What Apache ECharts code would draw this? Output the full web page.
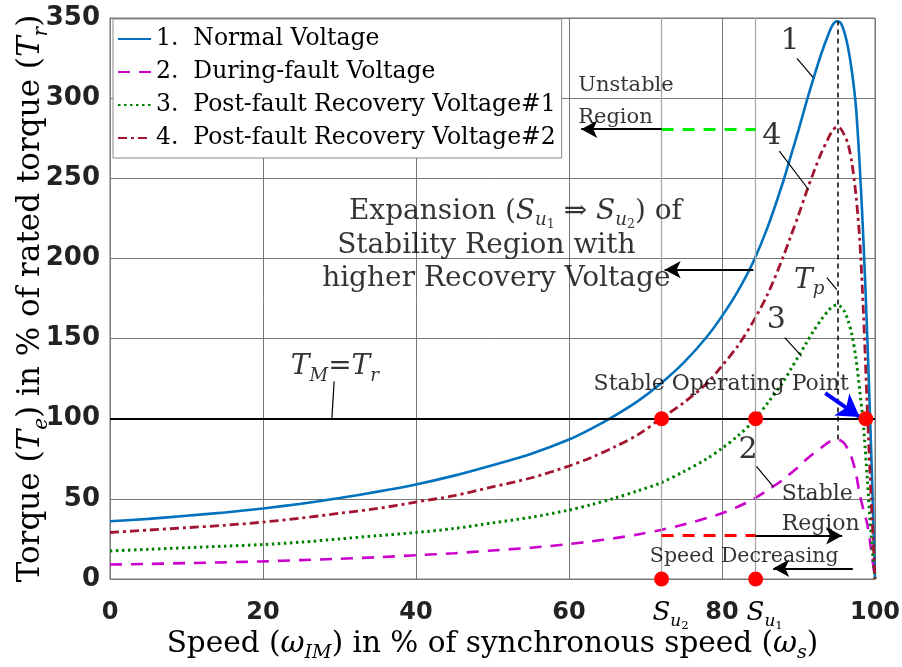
<!DOCTYPE html>
<html>
<head>
<meta charset="utf-8">
<script src="https://cdn.jsdelivr.net/npm/echarts@6/dist/echarts.min.js"></script>
<style>
  html, body { margin: 0; padding: 0; background: #fff; }
  #chart { width: 902px; height: 667px; }
</style>
</head>
<body>
<div id="chart"></div>
<script>
// speed in % of synchronous speed
const speed = [0, 5, 10, 15, 20, 25, 30, 35, 40, 45, 50, 55, 60,
  63, 66, 69, 72, 75, 78, 80, 82, 84, 86, 88,
  89, 90, 91, 92, 93, 94,
  94.5, 95, 95.5, 96, 96.5, 97, 97.5, 98, 98.5, 99, 99.5, 100];

// torque in % of rated torque
const normalV = [36, 37.5, 39.5, 41.5, 44, 47, 50.5, 54.5, 59, 64.5, 71, 78, 87,
  94, 102, 111, 122, 135, 151, 164, 179, 197, 220, 248,
  264, 280, 297, 313, 328, 341,
  346, 348, 347, 341, 331, 316, 295, 258, 210, 150, 80, 0];
const faultV = [9, 9.4, 9.9, 10.4, 11, 11.8, 12.6, 13.6, 14.8, 16.1, 17.8, 19.5, 21.8,
  23.5, 25.5, 27.8, 30.6, 34, 38, 41, 45, 49.5, 55.5, 62,
  66, 70, 74.5, 78.5, 82, 85.5,
  86.5, 87, 86.5, 84.5, 80.5, 75, 66, 53, 43, 34, 18, 0];
const recov1 = [17.5, 18.5, 19.5, 20.5, 21.5, 23, 25, 27, 29, 31.5, 35, 38.5, 43,
  46.5, 50.5, 55, 60, 67, 75, 81.5, 89, 98, 110, 123,
  131, 139, 147, 155, 162, 168,
  170, 171, 170, 167, 161, 152, 138, 118, 95, 62, 27, 0];
const recov2 = [29, 30.5, 32, 33.5, 35.5, 38, 41, 44, 48, 52, 57.5, 63, 70.5,
  76, 82.5, 90, 100, 110, 122, 133, 145, 160, 178, 201,
  214, 227, 241, 254, 266, 276,
  280, 282, 281, 277, 271, 259, 240, 212, 165, 105, 50, 0];

const names = ['1.  Normal Voltage', '2.  During-fault Voltage',
  '3.  Post-fault Recovery Voltage#1', '4.  Post-fault Recovery Voltage#2'];

// special points
const su2 = 72.1, su1 = 84.4, stablePt = 98.8, peakX = 95.1;
const ratedT = 100;

const SERIF = 'DejaVu Serif';

function pairs(ys) {
  return speed.map((x, i) => [x, ys[i]]);
}

// rich styles with fake sub/subsub scripts
function rich(f) {
  const base = { fontFamily: SERIF, color: '#000', verticalAlign: 'top' };
  return {
    t: Object.assign({}, base, { fontSize: f, lineHeight: f * 1.2 }),
    i: Object.assign({}, base, { fontSize: f, lineHeight: f * 1.2, fontStyle: 'italic' }),
    s: Object.assign({}, base, { fontSize: f * 0.65, lineHeight: f * 0.78, fontStyle: 'italic', padding: [f * 0.5, 0, 0, 0] }),
    ss: Object.assign({}, base, { fontSize: f * 0.45, lineHeight: f * 0.54, padding: [f * 0.74, 0, 0, 0] })
  };
}

// text notes: [text, speed, torque, fontSize, align]
const notes = [
  ['{t|1}', 88.9, 338, 30, 'center'],
  ['{t|4}', 86.5, 278.5, 30, 'center'],
  ['{t|3}', 87.1, 164, 30, 'center'],
  ['{t|2}', 83.4, 82.7, 30, 'center'],
  ['{i|T}{s|p}', 91.4, 189, 28, 'center'],
  ['{t|Unstable}', 61.2, 311, 21, 'left'],
  ['{t|Region}', 61.2, 291, 21, 'left'],
  ['{t|Expansion (}{i|S}{s|u}{ss|1}{t| ⇒ }{i|S}{s|u}{ss|2}{t|) of}', 53.0, 232, 28, 'center'],
  ['{t|Stability Region with}', 49.2, 210.6, 28, 'center'],
  ['{t|higher Recovery Voltage}', 50.5, 190, 28, 'center'],
  ['{t|Stable Operating Point}', 79.9, 124.5, 22, 'center'],
  ['{i|T}{s|M}{t|=}{i|T}{s|r}', 29.4, 135, 28, 'center'],
  ['{t|Stable}', 87.8, 55.6, 22, 'left'],
  ['{t|Region}', 87.8, 36.9, 22, 'left'],
  ['{t|Speed Decreasing}', 82.9, 17.1, 20.5, 'center']
];

function seg(a, b, style, head) {
  return [
    { coord: a, symbol: 'none', lineStyle: style },
    { coord: b, symbol: head ? 'arrow' : 'none', symbolSize: head || 0 }
  ];
}

const thin = { color: '#000', width: 1.2, type: 'solid' };
const arrowLine = { color: '#000', width: 2, type: 'solid' };

const leaders = [
  seg([89.8, 324.8], [91.9, 312.9], thin),
  seg([87.5, 267], [91.3, 243], thin),
  seg([88.2, 150.6], [90.4, 139], thin),
  seg([84.5, 70.2], [86.7, 57.7], thin),
  seg([93.7, 188], [95.0, 180.6], thin),
  seg([29.3, 123.3], [29.0, ratedT], thin)
];

const arrows = [
  seg([0, ratedT], [100, ratedT], { color: '#000', width: 2, type: 'solid' }),
  seg([peakX, 87], [peakX, 348], { color: '#000', width: 1.5, type: [5, 4] }),
  seg([su2, 280.6], [su1, 280.6], { color: '#00ee00', width: 3, type: [12, 9] }),
  seg([su2, 280.6], [61.6, 280.6], arrowLine, [13, 16]),
  seg([84.1, 193], [72.5, 193], arrowLine, [13, 16]),
  seg([su2, 27], [su1, 27], { color: '#ff0000', width: 3, type: [12, 9] }),
  seg([su1, 27], [95.7, 27], arrowLine, [13, 16]),
  seg([97.1, 6.7], [86.7, 6.7], arrowLine, [13, 16]),
  seg([93.5, 116], [98.0, 101], { color: '#0000ff', width: 4, type: 'solid' }, [20, 22])
];

const guides = [
  seg([su2, 0], [su2, 350], { color: '#a8a8a8', width: 1.3, type: 'solid' }),
  seg([su1, 0], [su1, 350], { color: '#a8a8a8', width: 1.3, type: 'solid' })
];

const dots = [[su2, ratedT], [su1, ratedT], [stablePt, ratedT]];
const axisDots = [
  [su2, 0, '{i|S}{s|u}{ss|2}'],
  [su1, 0, '{i|S}{s|u}{ss|1}']
];

const chart = echarts.init(document.getElementById('chart'));

const curveStyles = [
  { color: '#0072bd', width: 2.6, type: 'solid' },
  { color: '#cc00cc', width: 2.6, type: [12, 9] },
  { color: '#008000', width: 3, type: [2.5, 3.5] },
  { color: '#a2142f', width: 2.8, type: [9, 4, 3, 4] }
];
const curveData = [normalV, faultV, recov1, recov2];

const curves = names.map((n, k) => ({
  name: n,
  type: 'line',
  data: pairs(curveData[k]),
  symbol: 'none',
  smooth: 0.3,
  z: 3,
  color: curveStyles[k].color,
  lineStyle: curveStyles[k]
}));

const option = {
  animation: false,
  backgroundColor: '#fff',
  grid: {
    left: 110, right: 27, top: 18, bottom: 88,
    outerBoundsMode: 'none', containLabel: false,
    show: true, borderColor: '#777', borderWidth: 1
  },
  legend: {
    data: names,
    orient: 'vertical',
    left: 113,
    top: 19,
    padding: [5, 6, 5, 4],
    itemWidth: 33,
    itemHeight: 14,
    itemGap: 3,
    itemTextGap: 2,
    backgroundColor: '#fff',
    borderColor: '#888',
    borderWidth: 1,
    selectedMode: false,
    itemStyle: { opacity: 0 },
    textStyle: { fontFamily: SERIF, fontSize: 23.5, lineHeight: 30, color: '#000' }
  },
  xAxis: {
    type: 'value', min: 0, max: 100, interval: 20,
    axisLine: { show: true, lineStyle: { color: '#777' } },
    axisTick: { show: false },
    splitLine: { lineStyle: { color: '#777', width: 1 } },
    axisLabel: { margin: 22, fontFamily: 'DejaVu Sans', fontWeight: 'bold', fontSize: 24, color: '#222' },
    name: '{t|Speed (}{i|ω}{s|IM}{t|) in % of synchronous speed (}{i|ω}{s|s}{t|)}',
    nameLocation: 'middle',
    nameMoveOverlap: false,
    nameGap: 50,
    nameTextStyle: { rich: rich(29.5) }
  },
  yAxis: {
    type: 'value', min: 0, max: 350, interval: 50,
    axisLine: { show: true, lineStyle: { color: '#777' } },
    axisTick: { show: false },
    splitLine: { lineStyle: { color: '#777', width: 1 } },
    axisLabel: { margin: 10, fontFamily: 'DejaVu Sans', fontWeight: 'bold', fontSize: 26, color: '#222' },
    name: '{t|Torque (}{i|T}{s|e}{t|) in % of rated torque (}{i|T}{s|r}{t|)}',
    nameLocation: 'middle',
    nameMoveOverlap: false,
    nameGap: 57,
    nameTextStyle: { rich: rich(31) }
  },
  series: curves.concat([
    {
      name: 'guides', type: 'scatter', data: [], z: 1, silent: true,
      markLine: { silent: true, animation: false, symbol: ['none', 'none'], label: { show: false }, data: guides }
    },
    {
      name: 'arrows', type: 'scatter', data: [], z: 4, silent: true,
      markLine: { silent: true, animation: false, symbol: ['none', 'none'], label: { show: false }, data: arrows.concat(leaders) }
    },
    {
      name: 'dots', type: 'scatter', z: 6, clip: false, silent: true,
      symbolSize: 15,
      itemStyle: { color: '#ff0000', opacity: 1 },
      data: dots.concat(axisDots.map(d => ({
        value: [d[0], d[1]],
        label: { show: true, position: 'bottom', distance: 14, offset: [9, 0], color: '#000', formatter: d[2], rich: rich(26) }
      })))
    },
    {
      name: 'notes', type: 'scatter', z: 7, clip: false, silent: true,
      symbolSize: 0,
      data: notes.map(n => ({
        value: [n[1], n[2]],
        label: {
          show: true, position: 'inside', offset: [0, 7], align: n[4], verticalAlign: 'middle',
          color: '#000', textBorderWidth: 0, formatter: n[0], rich: rich(n[3])
        }
      }))
    }
  ])
};

chart.setOption(option);
</script>
</body>
</html>
